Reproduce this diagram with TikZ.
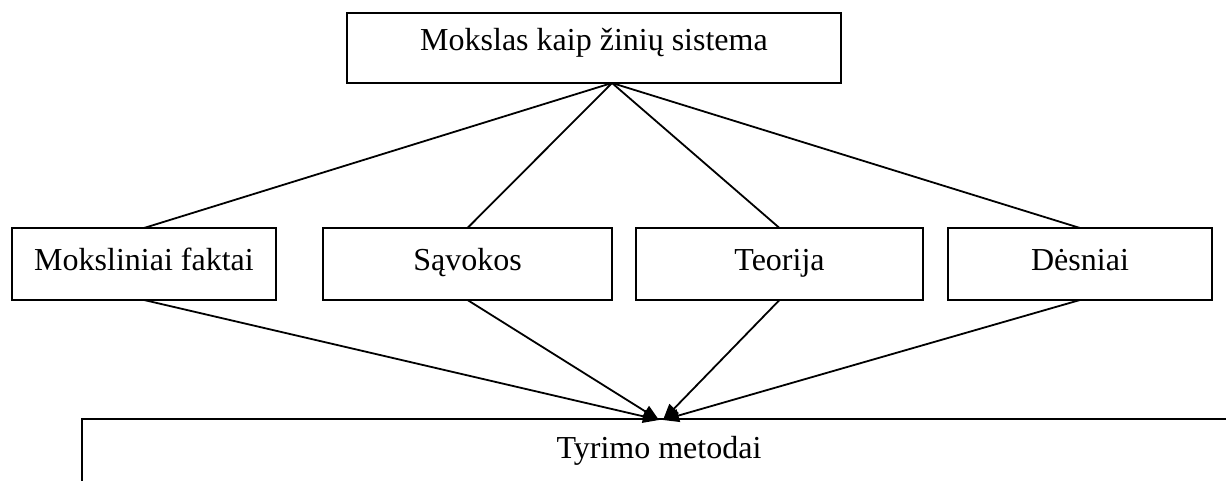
\documentclass[tikz,border=0pt]{standalone}
\usepackage{fontspec}
\setmainfont{Liberation Serif}
\usetikzlibrary{arrows.meta}
\begin{document}
\begin{tikzpicture}[x=1pt,y=-1pt,line width=1.8pt,
  box/.style={draw,rectangle,inner sep=0pt,outer sep=0pt,anchor=north west,align=center,
    font=\fontsize{32}{38}\selectfont},
  conn/.style={line width=1.8pt},
  arr/.style={line width=1.8pt,-{Triangle[length=16pt,width=13pt]}}]
\useasboundingbox (0,0) rectangle (1226,481);
\clip (0,0) rectangle (1226,481);
% top box
\node[box,minimum width=494pt,text height=38pt,text depth=32pt] (top) at (347,13) {Mokslas kaip žinių sistema};
% middle boxes
\node[box,minimum width=264pt,text height=42pt,text depth=30pt] (b1) at (12,228) {Moksliniai faktai};
\node[box,minimum width=289pt,text height=42pt,text depth=30pt] (b2) at (323,228) {Sąvokos};
\node[box,minimum width=287pt,text height=42pt,text depth=30pt] (b3) at (636,228) {Teorija};
\node[box,minimum width=264pt,text height=42pt,text depth=30pt] (b4) at (948,228) {Dėsniai};
% bottom box (continues beyond the picture)
\node[box,minimum width=1154pt,text height=39pt,text depth=120pt] (tm) at (82,419) {Tyrimo metodai};
% connectors
\coordinate (apex) at (612,83);
\coordinate (tipL) at (659,420);
\coordinate (tipR) at (663,420);
\draw[conn] (apex) -- (b1.north);
\draw[conn] (apex) -- (b2.north);
\draw[conn] (apex) -- (b3.north);
\draw[conn] (apex) -- (b4.north);
\draw[arr] (b1.south) -- (tipL);
\draw[arr] (b2.south) -- (tipL);
\draw[arr] (b3.south) -- (tipR);
\draw[arr] (b4.south) -- (tipR);
\end{tikzpicture}
\end{document}
